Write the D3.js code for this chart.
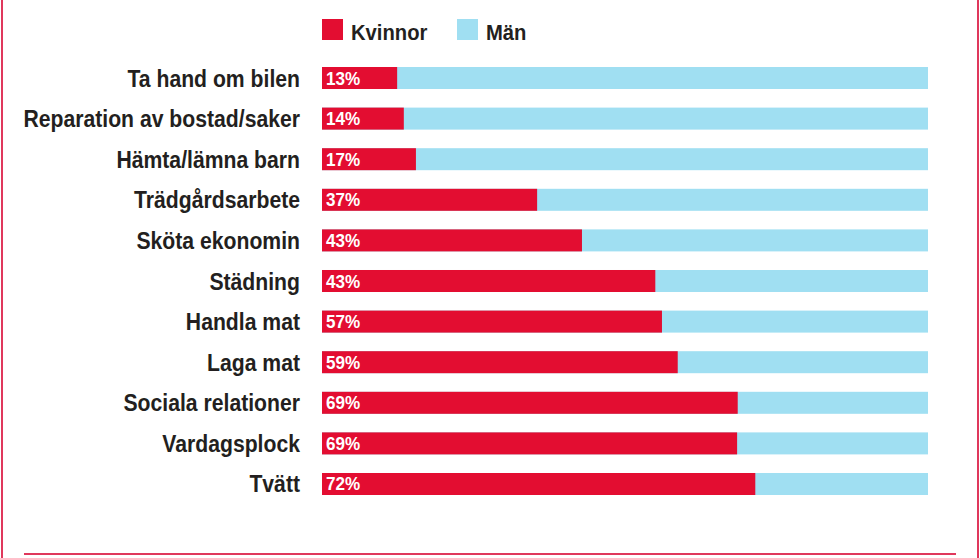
<!DOCTYPE html>
<html><head><meta charset="utf-8">
<script src="https://cdn.jsdelivr.net/npm/d3@7"></script>
<style>body{margin:0;background:#fff}svg{display:block}text{font-family:"Liberation Sans",Arial,sans-serif;font-weight:bold}</style>
</head><body><svg id="c" width="980" height="558"></svg>
<script>
const categories = ["Ta hand om bilen","Reparation av bostad/saker","Hämta/lämna barn","Trädgårdsarbete","Sköta ekonomin","Städning","Handla mat","Laga mat","Sociala relationer","Vardagsplock","Tvätt"];
const kvinnorValues = [12.4,13.5,15.5,35.5,42.9,55,56.1,58.7,68.6,68.5,71.5];
const valueLabels = ["13%","14%","17%","37%","43%","43%","57%","59%","69%","69%","72%"];
const seriesNames = ["Kvinnor","Män"];
const colors = {Kvinnor:"#e30d31", Män:"#a0dff2"};

const svg = d3.select("#c");
const x = d3.scaleLinear().domain([0,100]).range([322,928]);
const y = d3.scaleBand().domain(categories).range([67,495]).paddingInner(0.458).paddingOuter(0);

// frame
svg.append("line").attr("x1",2).attr("x2",2).attr("y1",0).attr("y2",558).attr("stroke","#e0385c").attr("stroke-width",2);
svg.append("line").attr("x1",978).attr("x2",978).attr("y1",0).attr("y2",558).attr("stroke","#e0385c").attr("stroke-width",2);
svg.append("line").attr("x1",24).attr("x2",956).attr("y1",554).attr("y2",554).attr("stroke","#e0385c").attr("stroke-width",2);

// legend
const lg = svg.append("g");
const legendX = [322,457];
seriesNames.forEach((s,i)=>{
  lg.append("rect").attr("x",legendX[i]).attr("y",19).attr("width",21).attr("height",21).attr("fill",colors[s]);
  lg.append("text").attr("transform",`translate(${legendX[i]+29},40) scale(0.92,1)`).attr("font-size",22).attr("fill","#231f20").text(s);
});

// bars
const rows = svg.append("g").selectAll("g").data(categories).join("g");
rows.append("rect").attr("x",x(0)).attr("y",d=>y(d)).attr("width",x(100)-x(0)).attr("height",y.bandwidth()).attr("fill",colors["Män"]);
rows.append("rect").attr("x",x(0)).attr("y",d=>y(d)).attr("width",(d,i)=>x(kvinnorValues[i])-x(0)).attr("height",y.bandwidth()).attr("fill",colors["Kvinnor"]);
rows.append("text").attr("transform",d=>`translate(${x(0)+4},${y(d)+y.bandwidth()/2+6.5}) scale(0.95,1)`).attr("font-size",18).attr("fill","#fff").text((d,i)=>valueLabels[i]);
rows.append("text").attr("transform",d=>`translate(300,${y(d)+y.bandwidth()/2+8.5}) scale(0.865,1)`).attr("text-anchor","end").attr("font-size",24.5).attr("fill","#231f20").text(d=>d);
</script></body></html>
